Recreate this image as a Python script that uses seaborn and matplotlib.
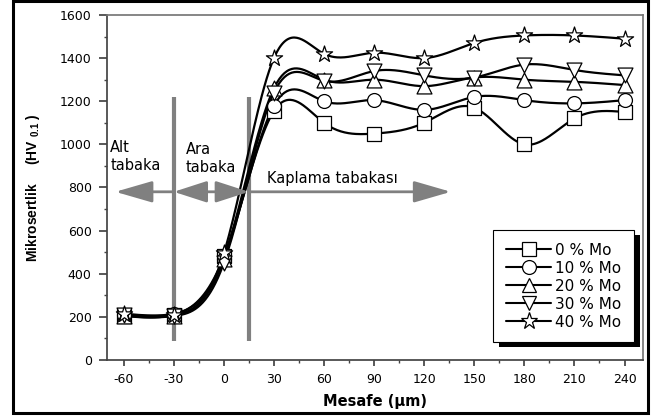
import numpy as np
import pandas as pd
import matplotlib
matplotlib.use("Agg")
import matplotlib.pyplot as plt
import seaborn as sns
from matplotlib.lines import Line2D
from matplotlib.patches import Rectangle
from matplotlib.ticker import MultipleLocator
from matplotlib.transforms import IdentityTransform

# Microhardness profile readings (HV0.1) vs. distance from interface (um)
distance = [-60, -30, 0, 30, 60, 90, 120, 150, 180, 210, 240]
series_names = ["0 % Mo", "10 % Mo", "20 % Mo", "30 % Mo", "40 % Mo"]
hv_mo0 = [205, 210, 480, 1155, 1100, 1050, 1100, 1170, 1000, 1120, 1150]
hv_mo10 = [210, 215, 470, 1180, 1200, 1205, 1160, 1220, 1205, 1190, 1205]
hv_mo20 = [205, 205, 470, 1260, 1300, 1300, 1270, 1310, 1300, 1290, 1275]
hv_mo30 = [210, 205, 450, 1240, 1295, 1340, 1320, 1310, 1370, 1345, 1320]
hv_mo40 = [215, 210, 495, 1400, 1420, 1425, 1400, 1470, 1505, 1505, 1490]
marker_shapes = ["s", "o", "^", "v", "*"]
marker_sizes = [90, 100, 115, 115, 150]

# zone boundaries and labels
zone_lines = [-30, 15]
zone_texts = ["Alt\ntabaka", "Ara\ntabaka", "Kaplama tabakası"]

all_hv = [hv_mo0, hv_mo10, hv_mo20, hv_mo30, hv_mo40]


def spline_curve(x, y, num=400):
    # natural cubic spline, only used to draw the smooth connecting line
    x = np.asarray(x, float)
    y = np.asarray(y, float)
    n = len(x)
    h = np.diff(x)
    A = np.zeros((n, n))
    rhs = np.zeros(n)
    A[0, 0] = A[-1, -1] = 1
    for i in range(1, n - 1):
        A[i, i - 1] = h[i - 1]
        A[i, i] = 2 * (h[i - 1] + h[i])
        A[i, i + 1] = h[i]
        rhs[i] = 3 * ((y[i + 1] - y[i]) / h[i] - (y[i] - y[i - 1]) / h[i - 1])
    c = np.linalg.solve(A, rhs)
    b = np.diff(y) / h - h * (2 * c[:-1] + c[1:]) / 3
    d = np.diff(c) / (3 * h)
    xs = np.linspace(x[0], x[-1], num)
    idx = np.clip(np.searchsorted(x, xs, side="right") - 1, 0, n - 2)
    t = xs - x[idx]
    ys = y[idx] + b[idx] * t + c[idx] * t ** 2 + d[idx] * t ** 3
    return xs, ys


curve_rows = []
point_rows = []
for name, hv in zip(series_names, all_hv):
    xs, ys = spline_curve(distance, hv)
    curve_rows.append(pd.DataFrame({"x": xs, "hv": ys, "series": name}))
    point_rows.append(pd.DataFrame({"x": distance, "hv": hv, "series": name}))
curves = pd.concat(curve_rows, ignore_index=True)
points = pd.concat(point_rows, ignore_index=True)

sns.set_theme(style="ticks")
plt.rcParams["font.family"] = ["DejaVu Sans"]
plt.rcParams["axes.unicode_minus"] = False
plt.rcParams["text.color"] = "black"
plt.rcParams["axes.labelcolor"] = "black"
plt.rcParams["xtick.labelcolor"] = "black"
plt.rcParams["ytick.labelcolor"] = "black"
plt.rcParams["mathtext.fontset"] = "custom"
plt.rcParams["mathtext.rm"] = "Liberation Sans"
plt.rcParams["mathtext.bf"] = "Liberation Sans:bold"

fig = plt.figure(figsize=(6.54, 4.16), dpi=100)
ax = fig.add_axes([0.1636, 0.1346, 0.8194, 0.8294])

grey = "#808080"
ax.vlines(zone_lines, 90, 1220, colors=grey, lw=3, zorder=1)

sns.lineplot(data=curves, x="x", y="hv", units="series", estimator=None,
             color="black", lw=1.6, sort=False, ax=ax, zorder=2)
for name, m, s in zip(series_names, marker_shapes, marker_sizes):
    sub = points[points["series"] == name]
    sns.scatterplot(data=sub, x="x", y="hv", marker=m, s=s, color="white",
                    edgecolor="black", linewidth=0.9, ax=ax, zorder=3,
                    legend=False)

# zone arrows
arr = dict(color=grey, lw=2, shrinkA=0, shrinkB=0)
ax.annotate("", xy=(-65, 780), xytext=(zone_lines[0], 780),
            arrowprops=dict(arrowstyle="-|>,head_length=1.9,head_width=0.55", **arr))
ax.annotate("", xy=(zone_lines[1], 780), xytext=(zone_lines[0], 780),
            arrowprops=dict(arrowstyle="<|-|>,head_length=1.7,head_width=0.55", **arr))
ax.annotate("", xy=(136, 780), xytext=(zone_lines[1], 780),
            arrowprops=dict(arrowstyle="-|>,head_length=1.9,head_width=0.55", **arr))

ax.text(-68, 1020, zone_texts[0], ha="left", va="top", fontsize=10.5, linespacing=1.25)
ax.text(-23, 1010, zone_texts[1], ha="left", va="top", fontsize=10.5, linespacing=1.25)
ax.text(26, 875, zone_texts[2], ha="left", va="top", fontsize=10.5)

ax.set_xlim(-70, 251)
ax.set_ylim(0, 1600)
ax.set_xticks(distance)
ax.set_yticks(range(0, 1601, 200))
ax.xaxis.set_minor_locator(MultipleLocator(15))
ax.yaxis.set_minor_locator(MultipleLocator(100))
ax.tick_params(axis="both", which="major", labelsize=9, color="#444444", pad=5)
ax.tick_params(axis="x", which="major", length=4)
ax.tick_params(axis="y", which="major", length=6)
ax.tick_params(axis="both", which="minor", length=2.5, color="#444444")
for side in ["left", "bottom"]:
    ax.spines[side].set_color("#444444")
for side in ["top", "right"]:
    ax.spines[side].set_color("#777777")
    ax.spines[side].set_visible(True)

ax.set_xlabel("Mesafe (µm)", fontsize=10.5, fontweight="bold", labelpad=6)
ax.set_ylabel(r"Mikrosertlik     (HV $_{\mathbf{0.1}}$ )", fontsize=10,
              fontweight="bold", labelpad=13, family="Liberation Sans")

handles = [Line2D([], [], color="black", lw=1.5, marker=m, ms=np.sqrt(s),
                  mfc="white", mec="black", mew=0.9)
           for m, s in zip(marker_shapes, marker_sizes)]
leg = ax.legend(handles, series_names, loc="lower right",
                bbox_to_anchor=(0.983, 0.052), borderaxespad=0, fontsize=11,
                frameon=True, fancybox=False, edgecolor="black",
                facecolor="white", framealpha=1, handlelength=3.0,
                handletextpad=0.25, labelspacing=0.2, borderpad=0.8)
leg.get_frame().set_linewidth(0.8)
leg.set_zorder(5)

# dark offset shadow behind the legend box
fig.canvas.draw()
bb = leg.get_frame().get_window_extent()
ax.add_patch(Rectangle((bb.x0 + 6, bb.y0 - 5), bb.width, bb.height,
                       transform=IdentityTransform(), facecolor="black",
                       edgecolor="none", zorder=4.9, clip_on=False))

# outer frame around the whole figure
fig.add_artist(Rectangle((0.02, 0.007), 0.971, 0.991, transform=fig.transFigure,
                         fill=False, lw=2.2, ec="black"))

fig.savefig("out.png", dpi=100)
